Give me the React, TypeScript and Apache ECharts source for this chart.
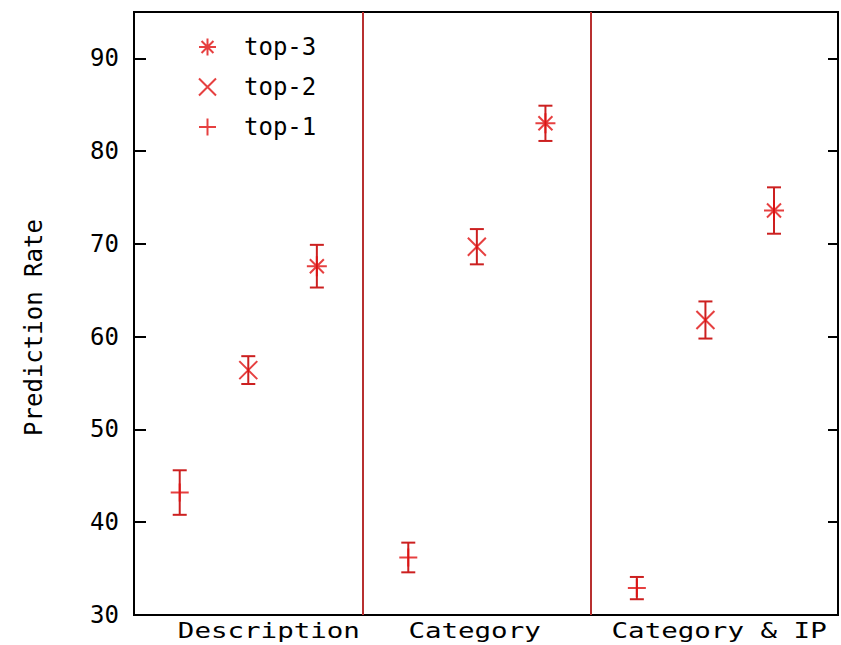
import React, { useEffect, useRef } from "react";
import * as echarts from "echarts";

// ---- data ----
const groupNames = ["Description", "Category", "Category & IP"];
const top1X = [2, 12, 22];
const top2X = [5, 15, 25];
const top3X = [8, 18, 28];
const top1Values = [43.2, 36.2, 32.9];
const top1Errors = [2.4, 1.6, 1.2];
const top2Values = [56.4, 69.7, 61.8];
const top2Errors = [1.5, 1.9, 2.0];
const top3Values = [67.6, 83.0, 73.6];
const top3Errors = [2.3, 1.9, 2.5];
const dividerX = [10, 20];
const yTicks = [30, 40, 50, 60, 70, 80, 90];
const labelCenterX = [5.9, 14.9, 25.6];

const RED = "#e01010";
const BAR_RED = "#cc2020";
const DIV_RED = "#b83030";
const FONT = "DejaVu Sans Mono";

const PLUS = "path://M10 0L10 20M0 10L20 10";
const CROSS = "path://M0 0L20 20M20 0L0 20";
const STAR = "path://M10 0L10 20M0 10L20 10M3 3L17 17M17 3L3 17";

function points(xs: number[], ys: number[]) {
  return xs.map((x, i) => [x, ys[i]]);
}
function errs(xs: number[], ys: number[], es: number[]) {
  return xs.map((x, i) => [x, ys[i] - es[i], ys[i] + es[i]]);
}

const errorBarSeries = (name: string, data: number[][]) => ({
  type: "custom",
  name: name + "-err",
  silent: true,
  z: 2,
  data,
  encode: { x: 0, y: [1, 2] },
  renderItem: (_params: any, api: any) => {
    const x = api.value(0);
    const lo = api.coord([x, api.value(1)]);
    const hi = api.coord([x, api.value(2)]);
    const w = 7;
    const style = { stroke: BAR_RED, lineWidth: 2 };
    return {
      type: "group",
      children: [
        { type: "line", shape: { x1: lo[0], y1: lo[1], x2: hi[0], y2: hi[1] }, style },
        { type: "line", shape: { x1: lo[0] - w, y1: lo[1], x2: lo[0] + w, y2: lo[1] }, style },
        { type: "line", shape: { x1: hi[0] - w, y1: hi[1], x2: hi[0] + w, y2: hi[1] }, style },
      ],
    };
  },
});

const markerSeries = (name: string, symbol: string, size: number, data: number[][], extra: any = {}) => ({
  type: "scatter",
  name,
  symbol,
  symbolSize: size,
  z: 3,
  itemStyle: { color: "rgba(0,0,0,0)", borderColor: RED, borderWidth: 2 },
  data,
  ...extra,
});

const legendStyle = { color: "rgba(0,0,0,0)", borderColor: RED, borderWidth: 2 };

export default function App() {
  const ref = useRef<HTMLDivElement>(null);
  useEffect(() => {
    if (!ref.current) return;
    const chart = echarts.init(ref.current, null, { renderer: "svg" });
    const gridLeft = 134;
    const gridRight = 3;
    const option: any = {
      animation: false,
      backgroundColor: "#fff",
      textStyle: { fontFamily: FONT },
      grid: {
        left: gridLeft,
        right: gridRight,
        top: 12,
        bottom: 30,
        show: true,
        borderColor: "#000",
        borderWidth: 2,
        backgroundColor: "transparent",
      },
      legend: {
        orient: "vertical",
        left: 193,
        top: 30,
        itemWidth: 17,
        itemHeight: 17,
        itemGap: 16,
        data: [
          { name: "top-3", icon: STAR, itemStyle: legendStyle },
          { name: "top-2", icon: CROSS, itemStyle: legendStyle },
          { name: "top-1", icon: PLUS, itemStyle: legendStyle },
        ],
        textStyle: { fontFamily: FONT, fontSize: 24, lineHeight: 20, color: "#000", padding: [0, 0, 0, 23] },
      },
      xAxis: {
        type: "value",
        min: 0,
        max: 30.8,
        axisLine: { show: false },
        axisTick: { show: false },
        axisLabel: { show: false },
        splitLine: { show: false },
      },
      yAxis: [
        {
          type: "value",
          min: 30,
          max: 95,
          interval: 10,
          name: "Prediction Rate",
          nameLocation: "middle",
          nameGap: 88,
          nameTextStyle: { fontFamily: FONT, fontSize: 24, color: "#000", padding: [0, 28, 0, 0] },
          axisLine: { show: true, lineStyle: { color: "#000", width: 2 } },
          axisTick: { show: true, inside: true, length: 12, lineStyle: { color: "#000", width: 2 } },
          axisLabel: {
            show: true,
            margin: 15,
            showMaxLabel: false,
            fontFamily: FONT,
            fontSize: 24,
            color: "#000",
            formatter: (v: number) => (yTicks.includes(v) ? String(v) : ""),
          },
          splitLine: { show: false },
        },
        {
          type: "value",
          position: "right",
          min: 30,
          max: 95,
          interval: 10,
          axisLine: { show: true, lineStyle: { color: "#000", width: 2 } },
          axisTick: { show: true, inside: true, length: 10, lineStyle: { color: "#000", width: 2 } },
          axisLabel: { show: false },
          splitLine: { show: false },
        },
      ],
      graphic: groupNames.map((name, i) => ({
        type: "text",
        x: gridLeft + (labelCenterX[i] / 30.8) * (841 - gridLeft - gridRight),
        y: 630,
        scaleX: 1.25,
        style: {
          text: name,
          fontFamily: FONT,
          fontSize: 22,
          fill: "#000",
          textAlign: "center",
          textVerticalAlign: "middle",
        },
      })),
      series: [
        markerSeries("top-1", PLUS, 18, points(top1X, top1Values), {
          markLine: {
            silent: true,
            symbol: "none",
            label: { show: false },
            lineStyle: { color: DIV_RED, width: 2, type: "solid" },
            data: dividerX.map((x) => ({ xAxis: x })),
          },
        }),
        markerSeries("top-2", CROSS, 18, points(top2X, top2Values)),
        markerSeries("top-3", STAR, 20, points(top3X, top3Values)),
        errorBarSeries("top-1", errs(top1X, top1Values, top1Errors)),
        errorBarSeries("top-2", errs(top2X, top2Values, top2Errors)),
        errorBarSeries("top-3", errs(top3X, top3Values, top3Errors)),
      ],
    };
    chart.setOption(option);
    return () => chart.dispose();
  }, []);
  return <div ref={ref} style={{ width: 841, height: 645, position: "absolute", left: 0, top: 0 }} />;
}
